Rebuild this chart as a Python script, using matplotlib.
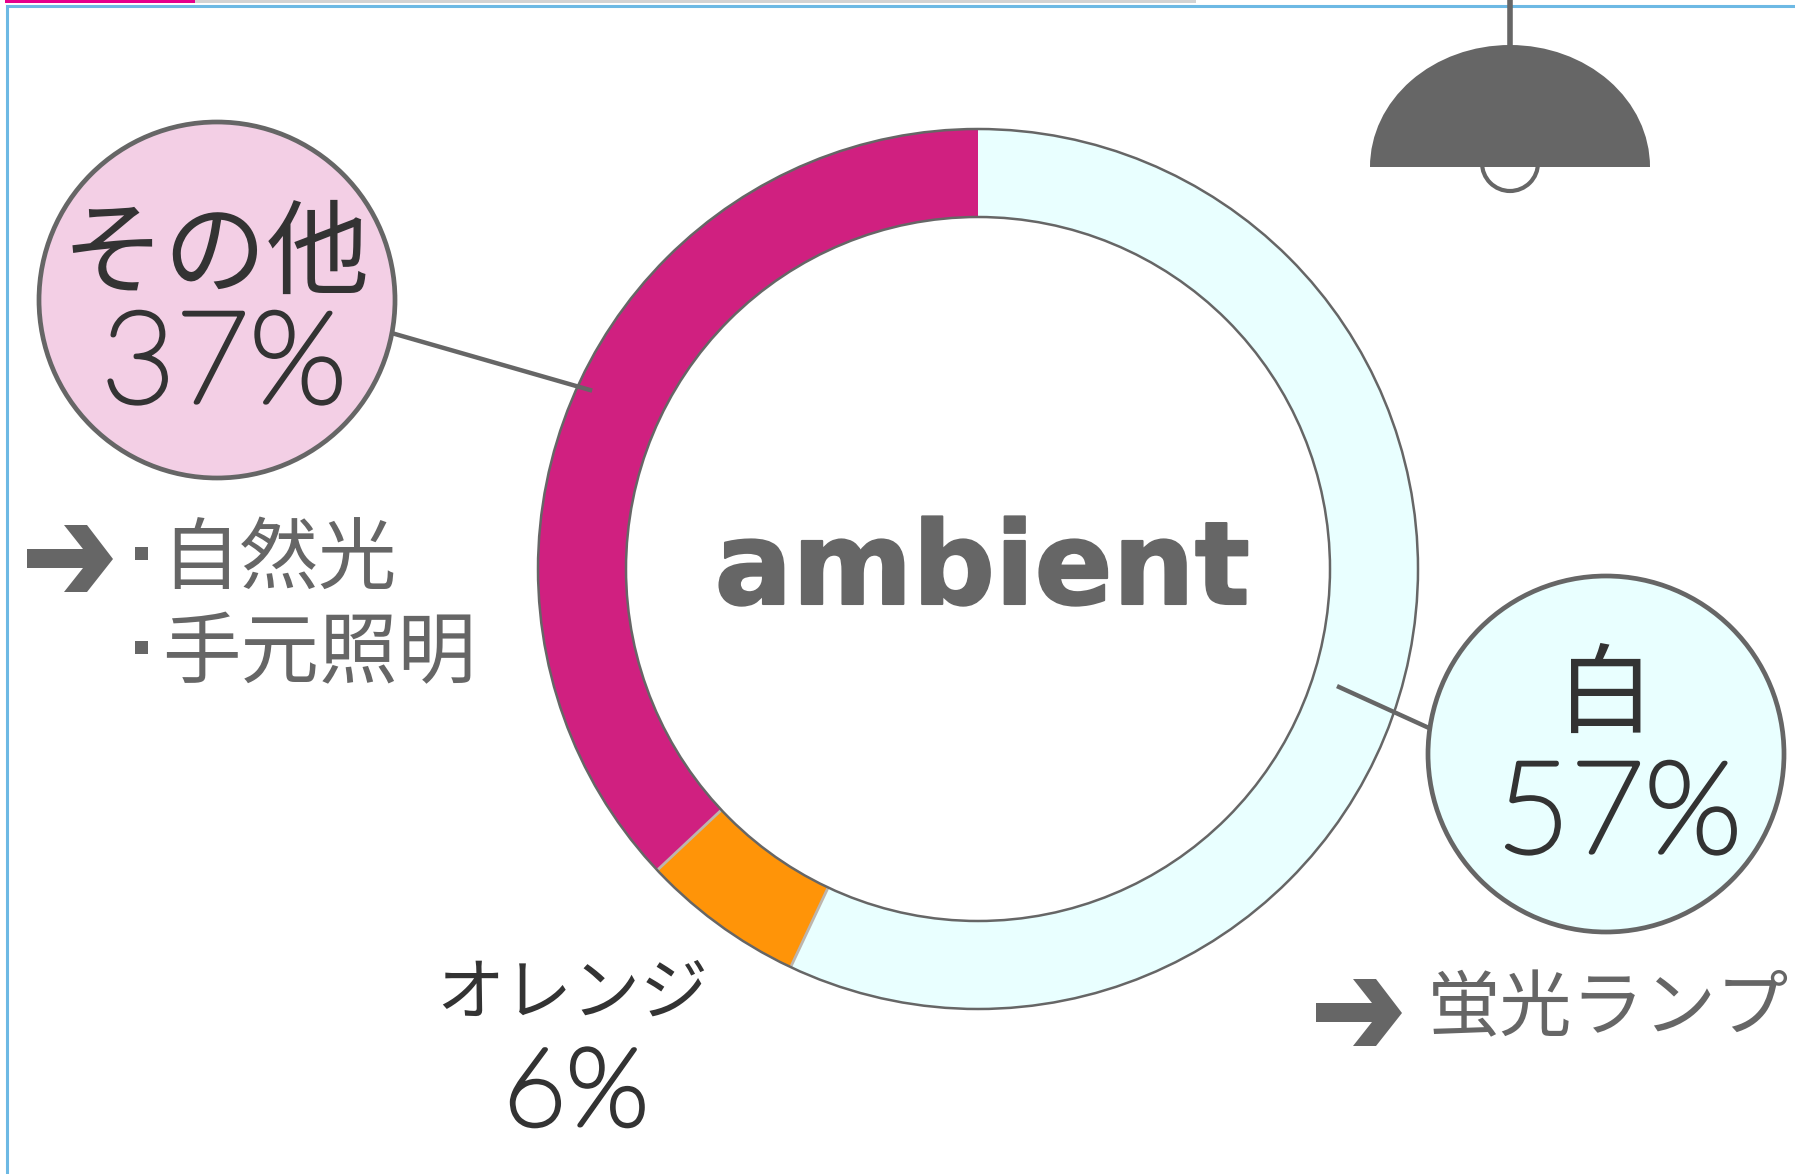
import matplotlib
matplotlib.use("Agg")
import matplotlib.pyplot as plt
import matplotlib.patheffects as pe
import numpy as np
from matplotlib.patches import Circle, Polygon, Rectangle, Wedge

plt.rcParams['font.family'] = ['Noto Sans CJK JP', 'DejaVu Sans']

# donut values, clockwise from the top
categories = ['白', 'オレンジ', 'その他']
shares = [57, 6, 37]
share_labels = ['57%', '6%', '37%']
center_word = 'ambient'
other_sources = ['自然光', '手元照明']
white_source = '蛍光ランプ'

slice_colors = ['#E9FFFF', '#FF9408', '#D02080']
GRAY = '#666666'
DARK = '#333333'
# the light Lato is a hairline here, thicken it with a stroke
PCT = dict(family='Lato', fontweight='light', color=DARK, ha='center', va='center',
           path_effects=[pe.withStroke(linewidth=3.2, foreground=DARK)])

fig = plt.figure(figsize=(17.95, 11.74), dpi=100, facecolor='white')
ax = fig.add_axes([0, 0, 1, 1])

# ring
cx, cy = 978, 569
r_out, r_in = 440, 352
ax.pie(shares, colors=slice_colors, center=(cx, cy), radius=r_out,
       startangle=-90, counterclock=True,
       wedgeprops=dict(width=r_out - r_in, linewidth=0))
ax.set_xlim(0, 1795)
ax.set_ylim(1174, 0)
ax.set_aspect('equal')
ax.axis('off')
# light seams around the orange slice only
for cum in np.cumsum(shares)[:2]:
    t = np.deg2rad(cum * 3.6 - 90)
    ax.plot([cx + r_in * np.cos(t), cx + r_out * np.cos(t)],
            [cy + r_in * np.sin(t), cy + r_out * np.sin(t)],
            color='#BDB5AD', lw=2, solid_capstyle='butt', zorder=2.5)
for r in (r_out, r_in):
    ax.add_patch(Circle((cx, cy), r, fc='none', ec=GRAY, lw=1.8, zorder=3))

# top progress bar and frame
ax.add_patch(Rectangle((5, 0), 190, 2.5, fc='#E6008C', ec='none'))
ax.add_patch(Rectangle((195, 0), 1001, 2.5, fc='#D3D3D3', ec='none'))
ax.plot([1795, 7, 7], [6, 6, 1174], color='#6DB9E4', lw=2.2, solid_joinstyle='miter')

# lamp
ax.plot([1510, 1510], [0, 50], color=GRAY, lw=4, solid_capstyle='butt', zorder=2)
ax.add_patch(Circle((1510, 163), 28, fc='white', ec=GRAY, lw=3, zorder=2))
ax.add_patch(Wedge((0, 0), 1, 180, 360, fc=GRAY, ec='none', zorder=3,
                   transform=matplotlib.transforms.Affine2D().scale(140, 122).translate(1510, 167) + ax.transData))

# leader lines and callouts
ax.plot([395, 590], [334, 390], color=GRAY, lw=3.2, zorder=4)
ax.plot([1339, 1429], [687, 728], color=GRAY, lw=3.2, zorder=4)
ax.add_patch(Circle((217, 300), 178, fc='#F3CFE5', ec=GRAY, lw=3.4, zorder=5))
ax.add_patch(Circle((1606, 754), 178, fc='#E9FFFF', ec=GRAY, lw=3.4, zorder=5))

ax.text(216, 256, categories[2], fontsize=74, color=DARK, ha='center', va='center', zorder=6)
ax.text(224, 368, share_labels[2], fontsize=92, zorder=6, **PCT)
ax.text(1606, 697, categories[0], fontsize=70, color=DARK, ha='center', va='center', zorder=6)
ax.text(1619, 818, share_labels[0], fontsize=92, zorder=6, **PCT)
ax.text(572, 995, categories[1], fontsize=49, color=DARK, ha='center', va='center')
ax.text(576, 1096, share_labels[1], fontsize=78, **PCT)

ax.text(982, 572, center_word, family='DejaVu Sans', fontweight='bold', fontsize=83, color=GRAY,
        ha='center', va='center', zorder=6,
        path_effects=[pe.withStroke(linewidth=1.5, foreground=GRAY)])

# arrows
arrow = [(27, 549), (83, 549), (64, 525), (87, 525), (113, 559),
         (87, 592), (64, 592), (83, 568), (27, 568)]
ax.add_patch(Polygon(arrow, fc=GRAY, ec='none'))
ax.add_patch(Polygon([(x + 1289, y + 454) for x, y in arrow], fc=GRAY, ec='none'))

# notes
ax.add_patch(Rectangle((135, 547), 13, 13, fc=GRAY, ec='none'))
ax.add_patch(Rectangle((135, 641), 13, 13, fc=GRAY, ec='none'))
ax.text(161, 560, other_sources[0], fontsize=56.5, color=GRAY, ha='left', va='center')
ax.text(162, 655, other_sources[1], fontsize=56.5, color=GRAY, ha='left', va='center')
ax.text(1428, 1010, white_source, fontsize=52, color=GRAY, ha='left', va='center')

fig.savefig('out.png', dpi=100)
